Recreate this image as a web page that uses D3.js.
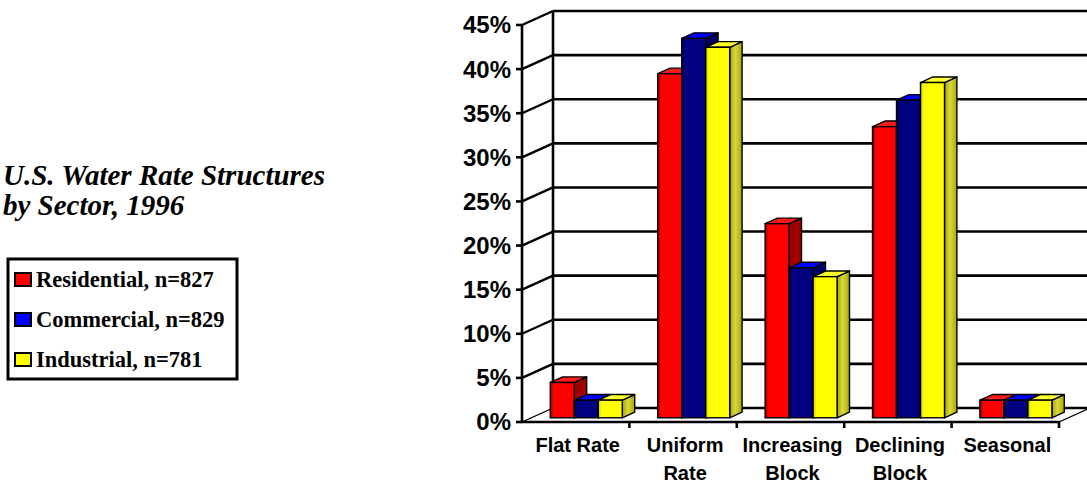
<!DOCTYPE html>
<html>
<head>
<meta charset="utf-8">
<script src="https://cdn.jsdelivr.net/npm/d3@7"></script>
<style>
  html, body { margin: 0; padding: 0; background: #fff; }
  svg { display: block; }
</style>
</head>
<body>
<svg id="chart" width="1087" height="485"></svg>
<script>
'use strict';

/* chart data */
const categories = ['Flat Rate', 'Uniform Rate', 'Increasing Block', 'Declining Block', 'Seasonal'];
const catLines = [['Flat Rate'], ['Uniform', 'Rate'], ['Increasing', 'Block'], ['Declining', 'Block'], ['Seasonal']];
const seriesNames = ['Residential, n=827', 'Commercial, n=829', 'Industrial, n=781'];
const residential = [4, 39, 22, 33, 2];
const commercial = [2, 43, 17, 36, 2];
const industrial = [2, 42, 16, 38, 2];
const yTicks = [0, 5, 10, 15, 20, 25, 30, 35, 40, 45];

const seriesValues = [residential, commercial, industrial];

/* colours per series: front, top, side, dark edge */
const palette = [
  {front: '#ff0000', top: '#ff1a1a', side: '#a00000', edge: '#900000'},
  {front: '#000080', top: '#0000ff', side: '#000060', edge: '#000050'},
  {front: '#ffff00', top: '#ffff30', side: '#a8a800', edge: '#c8c800'}
];

const svg = d3.select('svg#chart');

/* geometry of the pseudo 3D box */
const depth = {dx: 31, dy: -14};
const y = d3.scaleLinear().domain([0, 45]).range([422, 25]);
const x = d3.scaleBand().domain(categories).range([522, 1059]).padding(0);

/* bars sit between 30% and 70% of the floor depth */
const barF0 = 0.3, barF1 = 0.7;

/* gradients for the front faces */
const defs = svg.append('defs');
palette.forEach((p, i) => {
  const g = defs.append('linearGradient').attr('id', 'front' + i)
    .attr('x1', '0%').attr('x2', '100%').attr('y1', '0%').attr('y2', '0%');
  g.append('stop').attr('offset', '0%').attr('stop-color', p.edge);
  g.append('stop').attr('offset', '14%').attr('stop-color', p.front);
  g.append('stop').attr('offset', '100%').attr('stop-color', p.front);
  const s = defs.append('linearGradient').attr('id', 'side' + i)
    .attr('x1', '0%').attr('x2', '100%').attr('y1', '0%').attr('y2', '0%');
  s.append('stop').attr('offset', '0%').attr('stop-color', p.side);
  s.append('stop').attr('offset', '45%').attr('stop-color', i === 2 ? '#d8d840' : p.side);
  s.append('stop').attr('offset', '100%').attr('stop-color', p.side);
});

const chart = svg.append('g').attr('id', 'graph');

/* floor */
const x0 = x.range()[0], x1 = x.range()[1];
chart.append('path')
  .attr('d', `M${x0},${y(0)} L${x1},${y(0)} L${x1 + depth.dx},${y(0) + depth.dy} L${x0 + depth.dx},${y(0) + depth.dy} Z`)
  .attr('fill', '#fff')
  .attr('stroke', '#b0b0b0')
  .attr('stroke-width', 1);

/* back wall gridlines */
chart.append('g').selectAll('line')
  .data(yTicks)
  .enter().append('line')
  .attr('x1', x0 + depth.dx).attr('x2', 1100)
  .attr('y1', d => y(d) + depth.dy).attr('y2', d => y(d) + depth.dy)
  .attr('stroke', '#000').attr('stroke-width', 2.6);

/* left wall: diagonals from front ticks to the back wall */
chart.append('g').selectAll('line')
  .data(yTicks)
  .enter().append('line')
  .attr('x1', x0).attr('x2', x0 + depth.dx)
  .attr('y1', d => y(d)).attr('y2', d => y(d) + depth.dy)
  .attr('stroke', '#000').attr('stroke-width', d => d === 0 ? 1.2 : 2.4);

/* back wall vertical edge */
chart.append('line')
  .attr('x1', x0 + depth.dx).attr('x2', x0 + depth.dx)
  .attr('y1', y(0) + depth.dy).attr('y2', y(45) + depth.dy)
  .attr('stroke', '#000').attr('stroke-width', 2.6);

/* floor right edge */
chart.append('line')
  .attr('x1', x1).attr('x2', x1 + depth.dx)
  .attr('y1', y(0)).attr('y2', y(0) + depth.dy)
  .attr('stroke', '#000').attr('stroke-width', 1.2);

/* bars */
const inner = d3.scaleBand().domain(d3.range(seriesNames.length))
  .range([19, 91]).padding(0);
const bdx = depth.dx * barF0, bdy = depth.dy * barF0;
const ddx = depth.dx * (barF1 - barF0), ddy = depth.dy * (barF1 - barF0);

const bars = [];
categories.forEach((c, ci) => {
  seriesValues.forEach((vals, si) => {
    bars.push({cat: c, series: si, value: vals[ci]});
  });
});

const barG = chart.append('g').attr('id', 'bars');
const bw = inner.bandwidth();
bars.forEach(b => {
  const left = x(b.cat) + inner(b.series) + bdx;
  const right = left + bw;
  const top = y(b.value) + bdy;
  const base = y(0) + bdy;
  const p = palette[b.series];
  const g = barG.append('g');
  /* right side face */
  g.append('path')
    .attr('d', `M${right},${base} L${right + ddx},${base + ddy} L${right + ddx},${top + ddy} L${right},${top} Z`)
    .attr('fill', `url(#side${b.series})`)
    .attr('stroke', '#000').attr('stroke-width', 1.4).attr('stroke-linejoin', 'round');
  /* top face */
  g.append('path')
    .attr('d', `M${left},${top} L${right},${top} L${right + ddx},${top + ddy} L${left + ddx},${top + ddy} Z`)
    .attr('fill', p.top)
    .attr('stroke', '#000').attr('stroke-width', 1.4).attr('stroke-linejoin', 'round');
  /* front face */
  g.append('rect')
    .attr('x', left).attr('y', top)
    .attr('width', bw).attr('height', base - top)
    .attr('fill', `url(#front${b.series})`)
    .attr('stroke', '#000').attr('stroke-width', 1.4);
});

/* front axes */
chart.append('line')
  .attr('x1', x0).attr('x2', x0)
  .attr('y1', y(0)).attr('y2', y(45))
  .attr('stroke', '#000').attr('stroke-width', 2.6);
chart.append('line')
  .attr('x1', x0 - 1).attr('x2', x1 + 1)
  .attr('y1', y(0)).attr('y2', y(0))
  .attr('stroke', '#000').attr('stroke-width', 2.6);

/* y ticks and labels */
const yAxis = chart.append('g').attr('id', 'left-axis');
yAxis.selectAll('line')
  .data(yTicks)
  .enter().append('line')
  .attr('x1', x0 - 6).attr('x2', x0)
  .attr('y1', d => y(d)).attr('y2', d => y(d))
  .attr('stroke', '#000').attr('stroke-width', 2.6);
yAxis.selectAll('text')
  .data(yTicks)
  .enter().append('text')
  .attr('x', 511)
  .attr('y', d => y(d))
  .attr('dy', '0.35em')
  .attr('text-anchor', 'end')
  .style('font-family', '"Liberation Sans", Arial, sans-serif')
  .style('font-weight', 'bold')
  .style('font-size', '24px')
  .text(d => d + '%');

/* x ticks at category boundaries */
const xBounds = categories.map(c => x(c) + x.bandwidth());
chart.append('g').selectAll('line')
  .data(xBounds)
  .enter().append('line')
  .attr('x1', d => d).attr('x2', d => d)
  .attr('y1', y(0)).attr('y2', y(0) + 6)
  .attr('stroke', '#000').attr('stroke-width', 2.6);

/* category labels */
const catG = chart.append('g').attr('id', 'bottom-axis');
categories.forEach((c, i) => {
  const t = catG.append('text')
    .attr('x', x(c) + x.bandwidth() / 2 + 2)
    .attr('y', 452)
    .attr('text-anchor', 'middle')
    .style('font-family', '"Liberation Sans", Arial, sans-serif')
    .style('font-weight', 'bold')
    .style('font-size', '20px');
  catLines[i].forEach((line, li) => {
    t.append('tspan')
      .attr('x', x(c) + x.bandwidth() / 2 + 2)
      .attr('y', 452 + li * 28)
      .text(line);
  });
});

/* title */
const title = svg.append('text')
  .style('font-family', '"Liberation Serif", "Times New Roman", serif')
  .style('font-weight', 'bold')
  .style('font-style', 'italic')
  .style('font-size', '29px');
title.append('tspan').attr('x', 3).attr('y', 185).text('U.S. Water Rate Structures');
title.append('tspan').attr('x', 3).attr('y', 215).text('by Sector, 1996');

/* legend */
const legend = svg.append('g').attr('id', 'legend');
legend.append('rect')
  .attr('x', 8).attr('y', 259).attr('width', 229).attr('height', 120)
  .attr('fill', '#fff').attr('stroke', '#000').attr('stroke-width', 3);
seriesNames.forEach((name, i) => {
  const by = 287 + i * 40;
  legend.append('rect')
    .attr('x', 15).attr('y', by - 14).attr('width', 16).attr('height', 13)
    .attr('fill', i === 1 ? '#0000ff' : palette[i].front)
    .attr('stroke', '#000').attr('stroke-width', 2);
  legend.append('text')
    .attr('x', 36).attr('y', by)
    .style('font-family', '"Liberation Serif", "Times New Roman", serif')
    .style('font-weight', 'bold')
    .style('font-size', '22.5px')
    .text(name);
});
</script>
</body>
</html>
